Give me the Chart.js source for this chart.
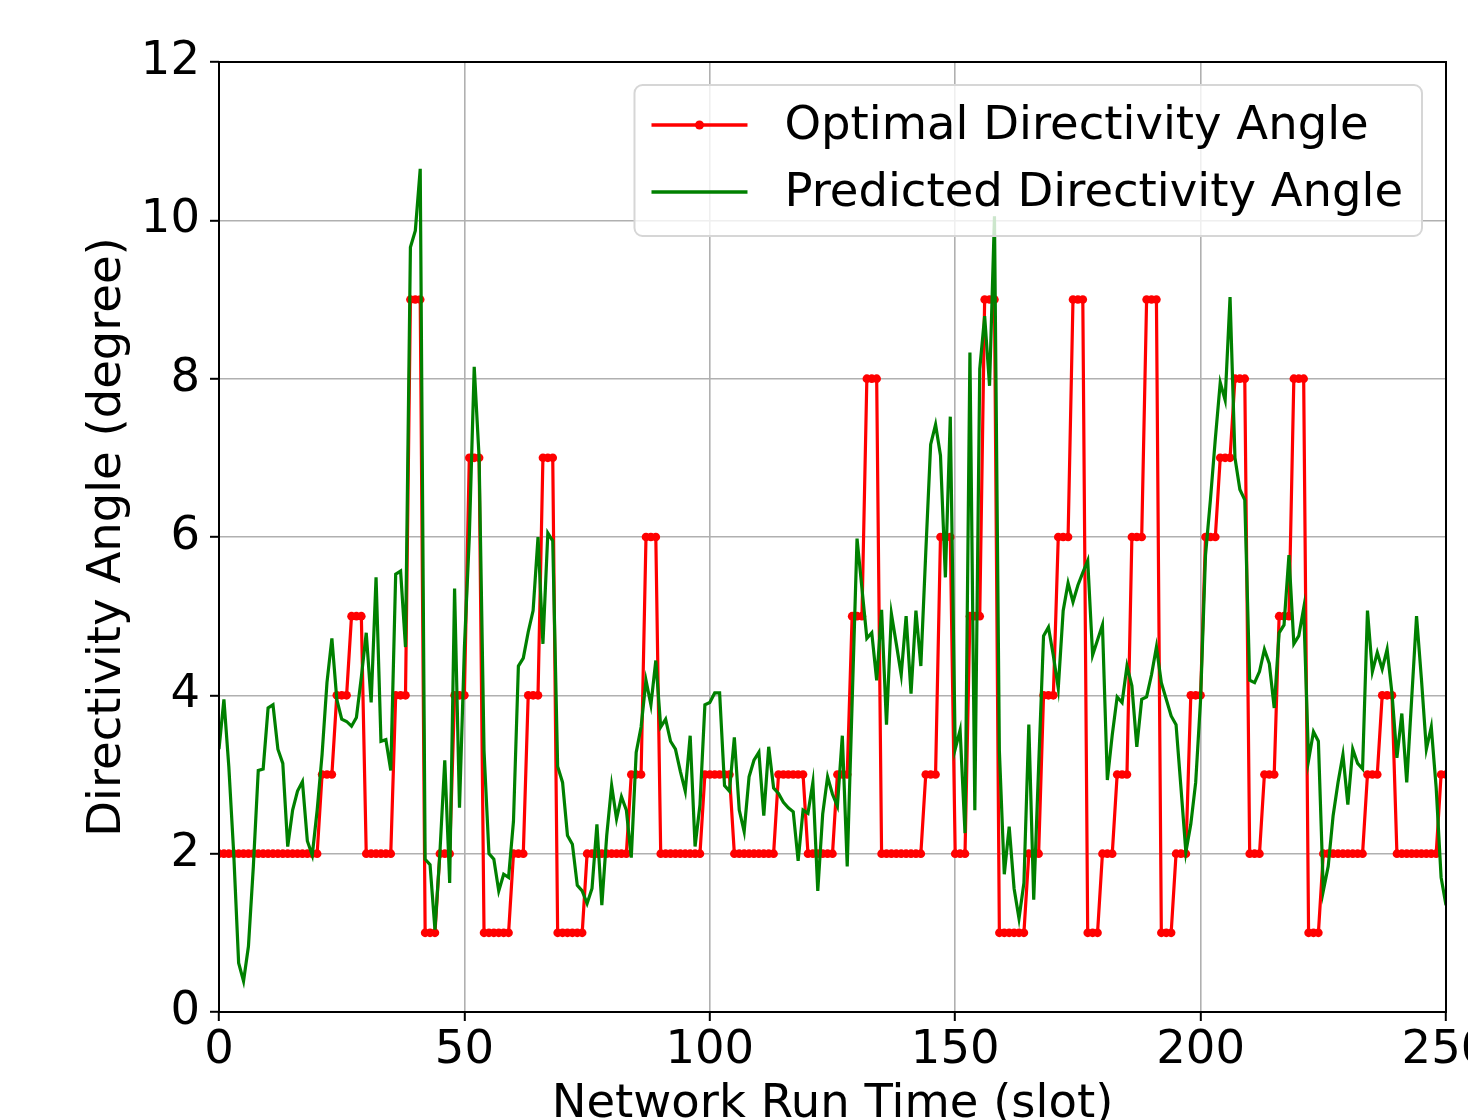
<!DOCTYPE html>
<html>
<head>
<meta charset="utf-8">
<title>Directivity Angle</title>
<script src="https://cdn.jsdelivr.net/npm/chart.js"></script>
<style>
  html, body { margin: 0; padding: 0; background: #fff; overflow: hidden; }
  #wrap { position: absolute; left: 0; top: 0; width: 1530px; height: 1170px; }
</style>
</head>
<body>
<div id="wrap"><canvas id="myChart" width="1530" height="1170"></canvas></div>
<script>
// slot index 0..250
const slots = Array.from({length: 251}, (_, i) => i);

const optimalAngle = [
  2,2,2, 2,2,2, 2,2,2, 2,2,2, 2,2,2, 2,2,2, 2,2,2, 3,3,3, 4,4,4, 5,5,5,
  2,2,2, 2,2,2, 4,4,4, 9,9,9, 1,1,1, 2,2,2, 4,4,4, 7,7,7, 1,1,1, 1,1,1,
  2,2,2, 4,4,4, 7,7,7, 1,1,1, 1,1,1, 2,2,2, 2,2,2, 2,2,2, 3,3,3, 6,6,6,
  2,2,2, 2,2,2, 2,2,2, 3,3,3, 3,3,3, 2,2,2, 2,2,2, 2,2,2, 3,3,3, 3,3,3,
  2,2,2, 2,2,2, 3,3,3, 5,5,5, 8,8,8, 2,2,2, 2,2,2, 2,2,2, 3,3,3, 6,6,6,
  2,2,2, 5,5,5, 9,9,9, 1,1,1, 1,1,1, 2,2,2, 4,4,4, 6,6,6, 9,9,9, 1,1,1,
  2,2,2, 3,3,3, 6,6,6, 9,9,9, 1,1,1, 2,2,2, 4,4,4, 6,6,6, 7,7,7, 8,8,8,
  2,2,2, 3,3,3, 5,5,5, 8,8,8, 1,1,1, 2,2,2, 2,2,2, 2,2,2, 3,3,3, 4,4,4,
  2,2,2, 2,2,2, 2,2,2, 3,3
];

const predictedAngle = [
  3.32, 3.95, 3.10, 2.00, 0.62, 0.39, 0.83, 1.84, 3.05, 3.07,
  3.84, 3.88, 3.32, 3.14, 2.09, 2.55, 2.79, 2.91, 2.16, 1.98,
  2.55, 3.25, 4.16, 4.72, 3.95, 3.70, 3.67, 3.61, 3.72, 4.23,
  4.79, 3.91, 5.49, 3.42, 3.44, 3.05, 5.53, 5.57, 4.61, 9.66,
  9.87, 10.65, 1.93, 1.86, 1.04, 2.00, 3.18, 1.63, 5.35, 2.58,
  4.60, 6.00, 8.15, 7.00, 3.30, 2.00, 1.93, 1.53, 1.74, 1.70,
  2.41, 4.37, 4.47, 4.80, 5.07, 6.00, 4.65, 6.05, 5.95, 3.10,
  2.90, 2.23, 2.12, 1.60, 1.53, 1.37, 1.56, 2.37, 1.35, 2.23,
  2.86, 2.44, 2.72, 2.55, 1.95, 3.28, 3.60, 4.19, 3.88, 4.44,
  3.60, 3.70, 3.42, 3.32, 3.04, 2.79, 3.49, 2.09, 2.62, 3.88,
  3.91, 4.03, 4.03, 2.86, 2.79, 3.47, 2.55, 2.28, 2.97, 3.18,
  3.28, 2.48, 3.35, 2.83, 2.76, 2.65, 2.58, 2.53, 1.91, 2.55,
  2.51, 2.90, 1.53, 2.50, 2.97, 2.75, 2.60, 3.49, 1.84, 3.91,
  5.98, 5.35, 4.72, 4.79, 4.19, 5.08, 3.63, 5.03, 4.65, 4.26,
  5.00, 4.02, 5.07, 4.37, 5.80, 7.17, 7.42, 7.03, 5.49, 7.52,
  3.32, 3.56, 2.26, 8.33, 2.55, 8.12, 8.79, 7.91, 10.05, 3.30,
  1.74, 2.34, 1.56, 1.18, 1.63, 3.63, 1.42, 3.10, 4.75, 4.86,
  4.50, 4.09, 5.07, 5.42, 5.18, 5.39, 5.55, 5.70, 4.51, 4.70,
  4.89, 2.93, 3.50, 3.98, 3.91, 4.37, 4.12, 3.35, 3.95, 3.98,
  4.26, 4.61, 4.16, 3.95, 3.74, 3.63, 2.83, 2.02, 2.37, 2.90,
  3.95, 5.77, 6.47, 7.24, 7.95, 7.73, 9.03, 7.00, 6.60, 6.47,
  4.19, 4.16, 4.30, 4.58, 4.40, 3.84, 4.79, 4.89, 5.77, 4.65,
  4.75, 5.10, 3.18, 3.54, 3.42, 1.53, 1.84, 2.48, 2.90, 3.25,
  2.62, 3.32, 3.14, 3.07, 5.07, 4.30, 4.54, 4.33, 4.58, 4.02,
  3.21, 3.77, 2.90, 3.95, 5.00, 4.20, 3.32, 3.60, 2.83, 1.70,
  1.35
];

const xTicks = [0, 50, 100, 150, 200, 250];
const yTicks = [0, 2, 4, 6, 8, 10, 12];
const seriesNames = ['Optimal Directivity Angle', 'Predicted Directivity Angle'];
const seriesColors = ['#ff0000', '#008000'];

const FONT = '"DejaVu Sans", "Liberation Sans", sans-serif';
const FSIZE = 46.5;
const W = 1530, H = 1170;
const area = {left: 219, top: 62, right: 1446, bottom: 1012};

// black box round the plot, like matplotlib spines
const frame = {
  id: 'frame',
  afterDatasetsDraw(chart) {
    const {ctx, chartArea} = chart;
    ctx.save();
    ctx.strokeStyle = '#000';
    ctx.lineWidth = 2;
    ctx.strokeRect(chartArea.left, chartArea.top, chartArea.right - chartArea.left, chartArea.bottom - chartArea.top);
    ctx.restore();
  }
};

// legend box in the upper right corner
const legendBox = {
  id: 'legendBox',
  afterDatasetsDraw(chart) {
    const {ctx, chartArea} = chart;
    ctx.save();
    ctx.font = FSIZE + 'px ' + FONT;
    const textW = Math.max(...seriesNames.map(n => ctx.measureText(n).width));
    const w = 150 + textW + 19;
    const h = 151;
    const x = chartArea.right - 24 - w;
    const y = chartArea.top + 23;
    ctx.beginPath();
    ctx.roundRect(x, y, w, h, 8);
    ctx.fillStyle = 'rgba(255,255,255,0.8)';
    ctx.fill();
    ctx.strokeStyle = '#d6d6d6';
    ctx.lineWidth = 2;
    ctx.stroke();
    seriesNames.forEach((name, i) => {
      const cy = y + 40 + i * 67;
      ctx.beginPath();
      ctx.moveTo(x + 17, cy);
      ctx.lineTo(x + 113, cy);
      ctx.strokeStyle = seriesColors[i];
      ctx.lineWidth = 3.3;
      ctx.stroke();
      if (i === 0) {
        ctx.beginPath();
        ctx.arc(x + 65, cy, 4.5, 0, Math.PI * 2);
        ctx.fillStyle = seriesColors[i];
        ctx.fill();
      }
      ctx.fillStyle = '#000';
      ctx.textBaseline = 'middle';
      ctx.textAlign = 'left';
      ctx.fillText(name, x + 150, cy + 2);
    });
    ctx.restore();
  }
};

const ctx = document.getElementById('myChart').getContext('2d');
new Chart(ctx, {
  type: 'line',
  data: {
    labels: slots,
    datasets: [
      {
        label: seriesNames[0],
        data: slots.map((s, i) => ({x: s, y: optimalAngle[i]})),
        borderColor: seriesColors[0],
        backgroundColor: seriesColors[0],
        borderWidth: 3.2,
        pointRadius: 4.3,
        pointBorderWidth: 0,
        pointHoverRadius: 0,
        tension: 0,
        order: 1
      },
      {
        label: seriesNames[1],
        data: slots.map((s, i) => ({x: s, y: predictedAngle[i]})),
        borderColor: seriesColors[1],
        backgroundColor: seriesColors[1],
        borderWidth: 3.2,
        pointRadius: 0,
        pointHoverRadius: 0,
        tension: 0,
        order: 0
      }
    ]
  },
  options: {
    responsive: false,
    animation: false,
    events: [],
    devicePixelRatio: 1,
    layout: {
      padding: {left: 0, top: area.top, right: W - area.right, bottom: 0}
    },
    plugins: {
      legend: {display: false},
      tooltip: {enabled: false}
    },
    scales: {
      x: {
        type: 'linear',
        min: 0,
        max: 250,
        afterBuildTicks: s => { s.ticks = xTicks.map(v => ({value: v})); },
        afterFit: s => {
          s.height = H - area.bottom;
          s.paddingLeft = 0; s.paddingRight = 0; s.paddingTop = 0; s.paddingBottom = 0;
        },
        grid: {color: '#b0b0b0', lineWidth: 1.6, tickColor: '#000', tickLength: 9, tickWidth: 2},
        border: {display: false},
        ticks: {color: '#000', padding: 2, maxRotation: 0, font: {family: FONT, size: FSIZE}},
        title: {
          display: true,
          text: 'Network Run Time (slot)',
          color: '#000',
          font: {family: FONT, size: FSIZE},
          padding: {top: 0, bottom: 37}
        }
      },
      y: {
        type: 'linear',
        min: 0,
        max: 12,
        afterBuildTicks: s => { s.ticks = yTicks.map(v => ({value: v})); },
        afterFit: s => {
          s.width = area.left;
          s.paddingLeft = 0; s.paddingRight = 0; s.paddingTop = 0; s.paddingBottom = 0;
        },
        grid: {color: '#b0b0b0', lineWidth: 1.6, tickColor: '#000', tickLength: 9, tickWidth: 2},
        border: {display: false},
        ticks: {color: '#000', padding: 10, font: {family: FONT, size: FSIZE}},
        title: {
          display: true,
          text: 'Directivity Angle (degree)',
          color: '#000',
          font: {family: FONT, size: FSIZE},
          padding: {top: 80, bottom: 0}
        }
      }
    }
  },
  plugins: [frame, legendBox]
});
</script>
</body>
</html>
